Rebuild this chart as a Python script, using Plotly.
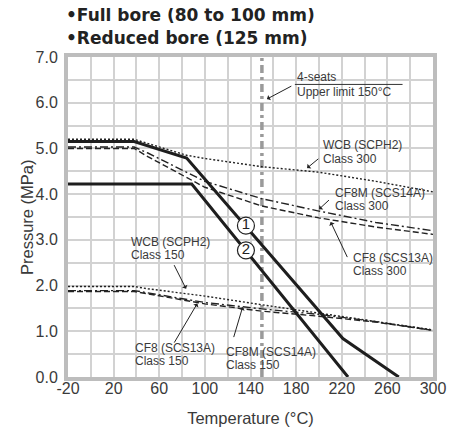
import plotly.graph_objects as go

# ---------------- data ----------------
x_ticks = [-20, 20, 60, 100, 140, 180, 220, 260, 300]
y_ticks = [0.0, 1.0, 2.0, 3.0, 4.0, 5.0, 6.0, 7.0]

# bold limit curves
line1_temp = [-20, 38, 84, 221, 270]
line1_p = [5.15, 5.15, 4.79, 0.84, 0.0]
line2_temp = [-20, 88.5, 225.5]
line2_p = [4.22, 4.22, 0.0]

# class 300 material curves
c300_temp = [-20, 38, 84, 100, 150, 200, 250, 300]
wcb300_p = [5.2, 5.2, 4.85, 4.78, 4.6, 4.48, 4.28, 4.05]
c300s_temp = [-20, 38, 50, 100, 150, 200, 250, 300]
cf8m300_p = [5.03, 5.03, 4.9, 4.28, 3.9, 3.63, 3.38, 3.2]
cf8300_p = [5.0, 5.0, 4.82, 4.15, 3.74, 3.48, 3.28, 3.12]

# class 150 material curves
c150_temp = [-20, 38, 50, 100, 150, 200, 250, 300]
wcb150_p = [1.98, 1.98, 1.93, 1.77, 1.58, 1.40, 1.22, 1.03]
cf8150_p = [1.87, 1.87, 1.82, 1.60, 1.44, 1.33, 1.20, 1.02]
cf8m150_p = [1.89, 1.89, 1.84, 1.63, 1.49, 1.37, 1.21, 1.02]

# 4-seat upper limit
limit_temp = [150, 150]
limit_p = [0.0, 7.0]

# curve number markers
marker_labels = ["1", "2"]

FONT = "Liberation Sans, Arial, sans-serif"
TXT = "#3a3a3a"

fig = go.Figure()

fig.add_trace(go.Scatter(x=limit_temp, y=limit_p, mode="lines",
                         line=dict(color="#9a9a9a", width=3.5, dash="8px,4px,3px,4px")))

fig.add_trace(go.Scatter(x=c300_temp, y=wcb300_p, mode="lines",
                         line=dict(color="#222", width=1.4, dash="2px,2px")))
fig.add_trace(go.Scatter(x=c300s_temp, y=cf8m300_p, mode="lines",
                         line=dict(color="#222", width=1.4, dash="8px,3px,2px,3px")))
fig.add_trace(go.Scatter(x=c300s_temp, y=cf8300_p, mode="lines",
                         line=dict(color="#222", width=1.4, dash="6px,3px")))

fig.add_trace(go.Scatter(x=c150_temp, y=wcb150_p, mode="lines",
                         line=dict(color="#222", width=1.4, dash="2px,2px")))
fig.add_trace(go.Scatter(x=c150_temp, y=cf8m150_p, mode="lines",
                         line=dict(color="#222", width=1.4, dash="8px,3px,2px,3px")))
fig.add_trace(go.Scatter(x=c150_temp, y=cf8150_p, mode="lines",
                         line=dict(color="#222", width=1.4, dash="6px,3px")))

fig.add_trace(go.Scatter(x=line1_temp, y=line1_p, mode="lines",
                         line=dict(color="#1e1e1e", width=3)))
fig.add_trace(go.Scatter(x=line2_temp, y=line2_p, mode="lines",
                         line=dict(color="#1e1e1e", width=3)))

# circled curve numbers (white-filled circles sitting on the bold lines)
fig.add_trace(go.Scatter(x=[136.0, 136.0], y=[3.31, 2.77], mode="markers+text",
                         text=marker_labels, textposition="middle center",
                         textfont=dict(family=FONT, size=15, color="#222"),
                         marker=dict(symbol="circle", size=17, color="white",
                                     line=dict(color="#222", width=1.2))))


def label(x, y, text, size=12, family=FONT):
    fig.add_annotation(x=x, y=y, xref="x", yref="y", text=text, showarrow=False,
                       xanchor="left", yanchor="middle",
                       font=dict(family=family, size=size, color=TXT))


def arrow(xt, yt, xh, yh):
    fig.add_annotation(x=xh, y=yh, ax=xt, ay=yt, xref="x", yref="y",
                       axref="x", ayref="y", text="", showarrow=True,
                       arrowhead=1, arrowsize=1.0, arrowwidth=1, arrowcolor="#222")


label(178.9, 6.56, "4-seats")
label(178.9, 6.23, "Upper limit 150°C")
arrow(177.1, 6.38, 154.4, 6.08)

label(201.8, 5.07, "WCB (SCPH2)")
label(201.8, 4.76, "Class 300")
arrow(200.8, 4.80, 189.6, 4.57)

label(212.4, 4.03, "CF8M (SCS14A)")
label(212.4, 3.74, "Class 300")
arrow(210.1, 3.90, 200.1, 3.67)

label(228.4, 2.60, "CF8 (SCS13A)")
label(228.4, 2.31, "Class 300")
arrow(225.5, 2.59, 210.3, 3.39)

label(33.9, 2.96, "WCB (SCPH2)")
label(33.9, 2.67, "Class 150")
arrow(72.4, 2.48, 83.5, 1.93)

label(37.4, 0.63, "CF8 (SCS13A)")
label(37.4, 0.36, "Class 150")
arrow(72.4, 0.72, 93.4, 1.61)

label(116.7, 0.55, "CF8M (SCS14A)")
label(116.7, 0.27, "Class 150")
arrow(124.9, 0.84, 133.1, 1.53)

# title lines
TFONT = "DejaVu Sans, Liberation Sans, sans-serif"
fig.add_annotation(x=0, y=1, xref="paper", yref="paper", xshift=-4, yshift=30,
                   text="<b>•Full bore (80 to 100 mm)</b>", showarrow=False,
                   xanchor="left", yanchor="bottom",
                   font=dict(family=TFONT, size=17, color="#222"))
fig.add_annotation(x=0, y=1, xref="paper", yref="paper", xshift=-4, yshift=7,
                   text="<b>•Reduced bore (125 mm)</b>", showarrow=False,
                   xanchor="left", yanchor="bottom",
                   font=dict(family=TFONT, size=17, color="#222"))

# y axis title
fig.add_annotation(x=0, y=0.5, xref="paper", yref="paper", xshift=-41, textangle=-90,
                   text="Pressure (MPa)", showarrow=False, xanchor="center", yanchor="middle",
                   font=dict(family=FONT, size=16.5, color=TXT))

# separator line between "4-seats" and "Upper limit"
fig.add_shape(type="line", x0=178.9, x1=273.3, y0=6.40, y1=6.40, xref="x", yref="y",
              line=dict(color="#333", width=1))

fig.update_layout(
    width=450, height=420,
    margin=dict(l=60, r=24.5, t=49, b=51.3),
    paper_bgcolor="white", plot_bgcolor="white",
    showlegend=False,
    font=dict(family=FONT, color=TXT),
    xaxis=dict(range=[-20, 300], tickvals=x_ticks, ticktext=[str(v) for v in x_ticks],
               automargin=False,
               showgrid=True, gridcolor="#d2d2d2", gridwidth=1.5,
               minor=dict(dtick=20, tick0=-20, showgrid=True, gridcolor="#d2d2d2", gridwidth=1.5),
               showline=True, linecolor="#bdbdbd", linewidth=4, mirror=True,
               ticks="", ticklabelstandoff=-6, tickfont=dict(size=16, color=TXT), zeroline=False,
               title=dict(text="Temperature (°C)", font=dict(size=16.5, color=TXT), standoff=17)),
    yaxis=dict(range=[0, 7], tickvals=y_ticks, ticktext=[f"{v:.1f}" for v in y_ticks],
               automargin=False,
               showgrid=True, gridcolor="#d2d2d2", gridwidth=1.5,
               minor=dict(dtick=0.5, tick0=0, showgrid=True, gridcolor="#d2d2d2", gridwidth=1.5),
               showline=True, linecolor="#bdbdbd", linewidth=4, mirror=True,
               ticks="", ticklabelstandoff=3, tickfont=dict(size=16, color=TXT), zeroline=False),
)

fig.write_html("out.html")
